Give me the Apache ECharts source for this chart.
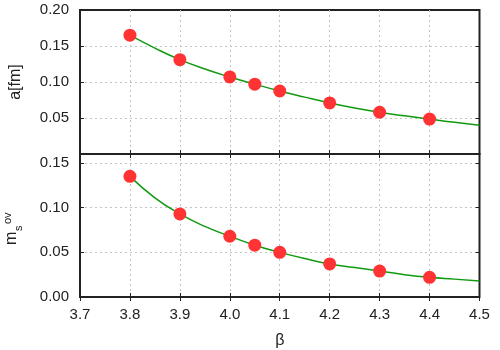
<!DOCTYPE html>
<html>
<head>
<meta charset="utf-8">
<script src="https://cdn.jsdelivr.net/npm/echarts@6/dist/echarts.min.js"></script>
<style>
  html, body { margin: 0; padding: 0; background: #fff; }
  #chart { width: 500px; height: 350px; }
</style>
</head>
<body>
<div id="chart"></div>
<script>
// measured points
const betaPts = [3.8, 3.9, 4.0, 4.05, 4.1, 4.2, 4.3, 4.4];
const aPts = [0.165, 0.131, 0.107, 0.097, 0.0875, 0.071, 0.058, 0.0485];
const msPts = [0.135, 0.093, 0.068, 0.058, 0.050, 0.037, 0.029, 0.022];

// fit curves
const betaFit = [3.8, 3.85, 3.9, 3.95, 4.0, 4.05, 4.1, 4.15, 4.2, 4.25, 4.3, 4.35, 4.4, 4.45, 4.5];
const aFit = [0.165, 0.147, 0.131, 0.118, 0.107, 0.097, 0.0875, 0.079, 0.071, 0.064, 0.058, 0.053, 0.0485, 0.044, 0.040];
const msFit = [0.135, 0.111, 0.093, 0.079, 0.068, 0.058, 0.050, 0.043, 0.037, 0.033, 0.029, 0.025, 0.022, 0.020, 0.018];

const FONT = "Liberation Sans";
const TXT = "#222";

function pairs(xs, ys) {
  return xs.map((x, i) => [x, ys[i]]);
}

function xAx(gridIndex, position, labels) {
  return {
    type: "value",
    gridIndex: gridIndex,
    position: position,
    min: 3.7,
    max: 4.5,
    interval: 0.1,
    axisLine: { show: false },
    axisTick: { show: true, inside: true, length: 4, lineStyle: { color: "#222" } },
    axisLabel: {
      show: labels,
      margin: 10,
      fontSize: 15,
      fontFamily: FONT,
      color: TXT,
      formatter: (v) => v.toFixed(1),
    },
    splitLine: {
      show: position === "bottom",
      showMinLine: false,
      showMaxLine: false,
      lineStyle: { color: "#c4c4c4", type: [2, 3], width: 1 },
    },
  };
}

function yAx(gridIndex, position, max, labels) {
  return {
    type: "value",
    gridIndex: gridIndex,
    position: position,
    min: 0,
    max: max,
    interval: 0.05,
    axisLine: { show: false },
    axisTick: { show: true, inside: true, length: 4, lineStyle: { color: "#222" } },
    axisLabel: {
      show: labels,
      margin: 11,
      fontSize: 15,
      fontFamily: FONT,
      color: TXT,
      showMinLabel: gridIndex === 1,
      showMaxLabel: gridIndex === 0,
      formatter: (v) => v.toFixed(2),
    },
    splitLine: {
      show: position === "left",
      showMinLine: false,
      showMaxLine: false,
      lineStyle: { color: "#c4c4c4", type: [2, 3], width: 1 },
    },
  };
}

const chart = echarts.init(document.getElementById("chart"), null, { renderer: "canvas" });

const xAxes = [
  xAx(0, "bottom", false),
  xAx(0, "top", false),
  xAx(1, "bottom", true),
  xAx(1, "top", false),
];
xAxes[2].name = "β";
xAxes[2].nameLocation = "middle";
xAxes[2].nameGap = 36;
xAxes[2].nameTextStyle = { fontSize: 16, fontFamily: FONT, color: TXT };

const yAxes = [
  yAx(0, "left", 0.2, true),
  yAx(0, "right", 0.2, false),
  yAx(1, "left", 0.16, true),
  yAx(1, "right", 0.16, false),
];
yAxes[0].name = "a[fm]";
yAxes[0].nameLocation = "middle";
yAxes[0].nameGap = 56;
yAxes[0].nameTextStyle = { fontSize: 16, fontFamily: FONT, color: TXT };

const lineStyle = { color: "#109a10", width: 1.5 };
const dotStyle = { color: "#ff3333", opacity: 1 };

chart.setOption({
  animation: false,
  backgroundColor: "#fff",
  grid: [
    { left: 80, right: 20.5, top: 10, height: 144, show: true, borderColor: "#222", borderWidth: 2 },
    { left: 80, right: 20.5, top: 154, height: 143, show: true, borderColor: "#222", borderWidth: 2 },
  ],
  xAxis: xAxes,
  yAxis: yAxes,
  graphic: [
    {
      type: "group",
      x: 20,
      y: 245,
      rotation: Math.PI / 2,
      z: 10,
      children: [
        { type: "text", x: 0, y: 0, style: { text: "m", fontSize: 16, fontFamily: FONT, fill: TXT, verticalAlign: "bottom" } },
        { type: "text", x: 14, y: 4, style: { text: "s", fontSize: 11, fontFamily: FONT, fill: TXT, verticalAlign: "bottom" } },
        { type: "text", x: 21, y: -7, style: { text: "ov", fontSize: 11, fontFamily: FONT, fill: TXT, verticalAlign: "bottom" } },
      ],
    },
  ],
  series: [
    {
      type: "line",
      xAxisIndex: 0,
      yAxisIndex: 0,
      data: pairs(betaFit, aFit),
      smooth: true,
      showSymbol: false,
      lineStyle: lineStyle,
      z: 2,
    },
    {
      type: "scatter",
      xAxisIndex: 0,
      yAxisIndex: 0,
      data: pairs(betaPts, aPts),
      symbolSize: 13,
      itemStyle: dotStyle,
      z: 3,
    },
    {
      type: "line",
      xAxisIndex: 2,
      yAxisIndex: 2,
      data: pairs(betaFit, msFit),
      smooth: true,
      showSymbol: false,
      lineStyle: lineStyle,
      z: 2,
    },
    {
      type: "scatter",
      xAxisIndex: 2,
      yAxisIndex: 2,
      data: pairs(betaPts, msPts),
      symbolSize: 13,
      itemStyle: dotStyle,
      z: 3,
    },
  ],
});
</script>
</body>
</html>
